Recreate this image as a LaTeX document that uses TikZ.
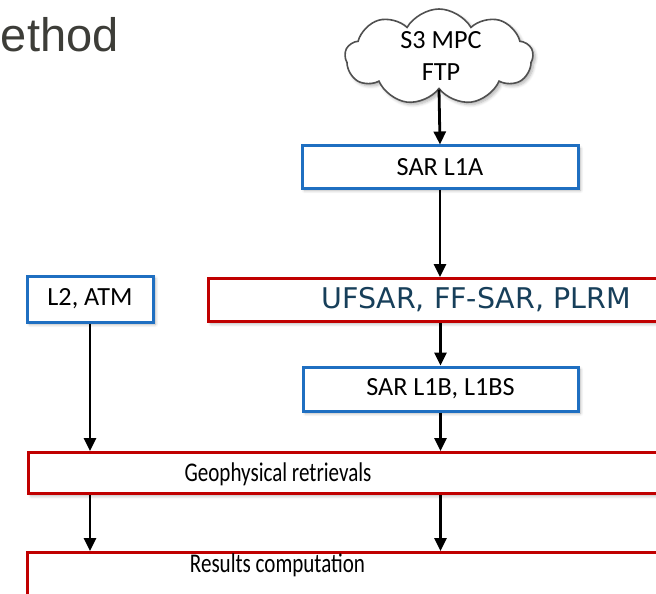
\documentclass[tikz,border=0pt]{standalone}
\usepackage{fontspec}
\setmainfont{Carlito}
\newfontfamily\vfont{DejaVu Sans}
\newfontfamily\hfont{Liberation Sans}
\newfontfamily\nfont[FakeStretch=0.78]{Carlito}
\usetikzlibrary{shapes.symbols,arrows.meta,shadows.blur}
\definecolor{boxblue}{HTML}{1F6FC1}
\definecolor{boxred}{HTML}{C00000}
\definecolor{titlegray}{HTML}{3D3D38}
\definecolor{tealtext}{HTML}{173F5A}
\definecolor{cloudline}{HTML}{505050}
\begin{document}
\begin{tikzpicture}[x=0.5pt,y=-0.5pt,
  soft/.style={blur shadow={shadow xshift=1.2pt,shadow yshift=-1.2pt,shadow opacity=30,shadow blur steps=6,shadow blur radius=1.5pt}},
  bluebox/.style={draw=boxblue,line width=1.5pt,fill=white,rectangle,inner sep=0pt,soft,font=\fontsize{13.1}{15}\selectfont},
  redbox/.style={draw=boxred,line width=1.5pt,fill=white,rectangle,inner sep=0pt,soft},
  lbl/.style={font=\fontsize{13.1}{15}\selectfont,text=black,inner sep=0pt,anchor=base},
  flow/.style={line width=1.4pt,-{Triangle[length=6.5pt,width=6pt]}}]
\useasboundingbox (0,0) rectangle (656,593);
\clip (0,0) rectangle (656,593);

% heading
\node[font=\hfont\fontsize{23.5}{28}\selectfont,text=titlegray,inner sep=0pt,anchor=base west] (title) at (0.5,52) {ethod};

% data source
\node[cloud,cloud puffs=9,cloud puff arc=120,aspect=2,draw=cloudline,line width=0.8pt,fill=white,
      minimum width=94pt,minimum height=48pt,soft] (src) at (439,57) {};
\node[lbl] (srcA) at (441,49) {S3 MPC};
\node[lbl] (srcB) at (441,81) {FTP};

% processing chain
\node[bluebox,minimum width=138pt,minimum height=21pt] (l1a) at (440,167) {SAR L1A};
\node[redbox,anchor=north west,minimum width=260pt,minimum height=21.5pt] (ff) at (207,277) {};
\node[lbl,font=\vfont\fontsize{14.25}{16}\selectfont,text=tealtext] (fft) at (476,308) {UFSAR, FF-SAR, PLRM};
\node[bluebox,minimum width=63pt,minimum height=23pt] (atm) at (90,299) {L2, ATM};
\node[bluebox,minimum width=137.5pt,minimum height=22pt] (l1b) at (440.5,389) {SAR L1B, L1BS};
\node[redbox,anchor=north west,minimum width=350pt,minimum height=20.5pt] (geo) at (27,451) {};
\node[lbl,font=\nfont\fontsize{13.5}{15}\selectfont] (geot) at (278,481) {Geophysical retrievals};
\node[redbox,anchor=north west,minimum width=350pt,minimum height=40pt] (res) at (26,551) {};
\node[lbl,font=\nfont\fontsize{13.5}{15}\selectfont] (rest) at (277.5,572) {Results computation};

% connectors
\draw[flow] (src.south) -- (l1a.north);
\draw[flow] (l1a.south) -- (l1a.south |- ff.north);
\draw[flow] (l1b.north |- ff.south) -- (l1b.north);
\draw[flow] (l1b.south) -- (l1b.south |- geo.north);
\draw[flow] (atm.south) -- (atm.south |- geo.north);
\draw[flow] (atm.south |- geo.south) -- (atm.south |- res.north);
\draw[flow] (l1b.south |- geo.south) -- (l1b.south |- res.north);
\end{tikzpicture}
\end{document}
